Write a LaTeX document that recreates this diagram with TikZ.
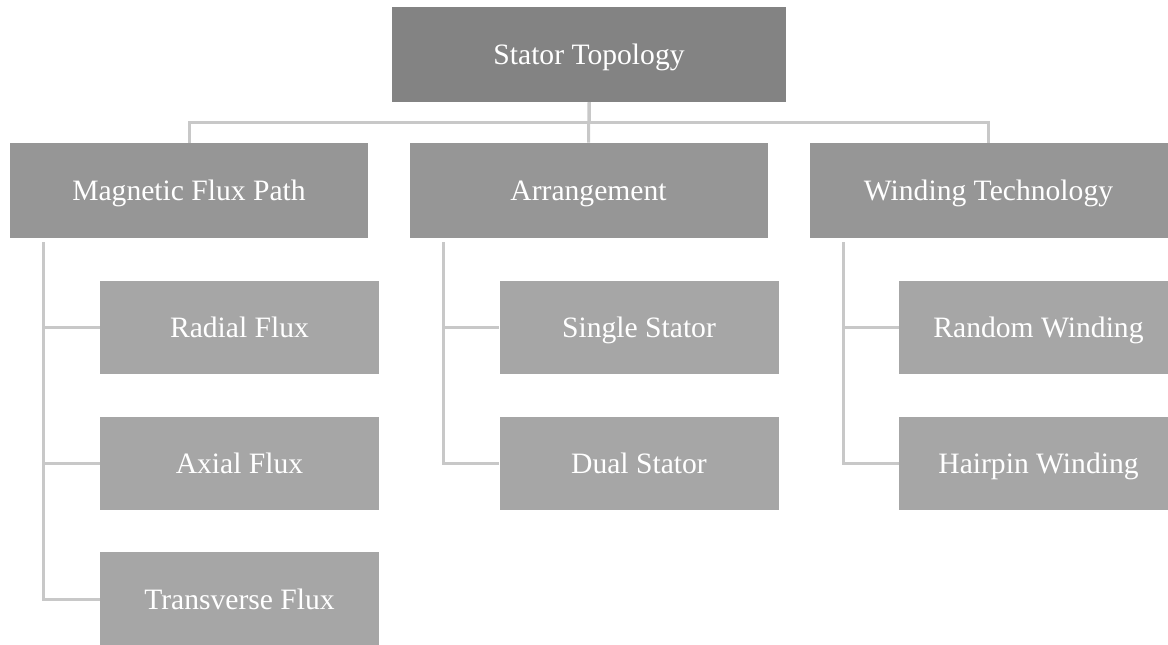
\documentclass[tikz,border=0pt]{standalone}
\usepackage{fontspec}
\setmainfont{Liberation Serif}
\definecolor{topgray}{HTML}{838383}
\definecolor{midgray}{HTML}{969696}
\definecolor{leafgray}{HTML}{A6A6A6}
\definecolor{linkgray}{HTML}{C8C8C8}
\usetikzlibrary{positioning}

\begin{document}
\begin{tikzpicture}[
  x=0.75pt,y=-0.75pt,
  every node/.style={font=\fontsize{22.2}{26}\selectfont,text=white,inner sep=0pt,
                     text height=15pt,text depth=0pt},
  rootbox/.style={fill=topgray,minimum width=295.5pt,minimum height=71.25pt},
  groupbox/.style={fill=midgray,minimum width=268.5pt,minimum height=71.25pt},
  leafbox/.style={fill=leafgray,minimum width=209.25pt,minimum height=70pt},
  link/.style={draw=linkgray,line width=2.25pt},
]
  \useasboundingbox (0,0) rectangle (1168,645);

  % Root
  \node[rootbox] (root) at (589,54.5) {Stator Topology};

  % Groups
  \node[groupbox] (flux) at (189,190.5) {Magnetic Flux Path};
  \node[groupbox] (arr) at (588.5,190.5) {Arrangement};
  \node[groupbox] (wind) at (988.5,190.5) {Winding Technology};

  % Leaves
  \node[leafbox] (radial) at (239.5,327.5) {Radial Flux};
  \node[leafbox] (axial) at (239.5,463.5) {Axial Flux};
  \node[leafbox] (trans) at (239.5,599) {Transverse Flux};
  \node[leafbox] (single) at (639,327.5) {Single Stator};
  \node[leafbox] (dual) at (639,463.5) {Dual Stator};
  \node[leafbox] (random) at (1038.5,327.5) {Random Winding};
  \node[leafbox] (hairpin) at (1038.5,463.5) {Hairpin Winding};

  % Root to groups
  \draw[link] (root.south) -- ++(0,20.5) -| (flux.north);
  \draw[link] (root.south) -- ++(0,20.5) -| (wind.north);
  \draw[link] (root.south) -- (arr.north);

  % Groups to leaves
  \draw[link] ([xshift=25.5pt,yshift=-3pt]flux.south west) |- (radial.west);
  \draw[link] ([xshift=25.5pt,yshift=-3pt]flux.south west) |- (axial.west);
  \draw[link] ([xshift=25.5pt,yshift=-3pt]flux.south west) |- (trans.west);
  \draw[link] ([xshift=26pt,yshift=-3pt]arr.south west) |- (single.west);
  \draw[link] ([xshift=26pt,yshift=-3pt]arr.south west) |- (dual.west);
  \draw[link] ([xshift=26pt,yshift=-3pt]wind.south west) |- (random.west);
  \draw[link] ([xshift=26pt,yshift=-3pt]wind.south west) |- (hairpin.west);
\end{tikzpicture}
\end{document}
